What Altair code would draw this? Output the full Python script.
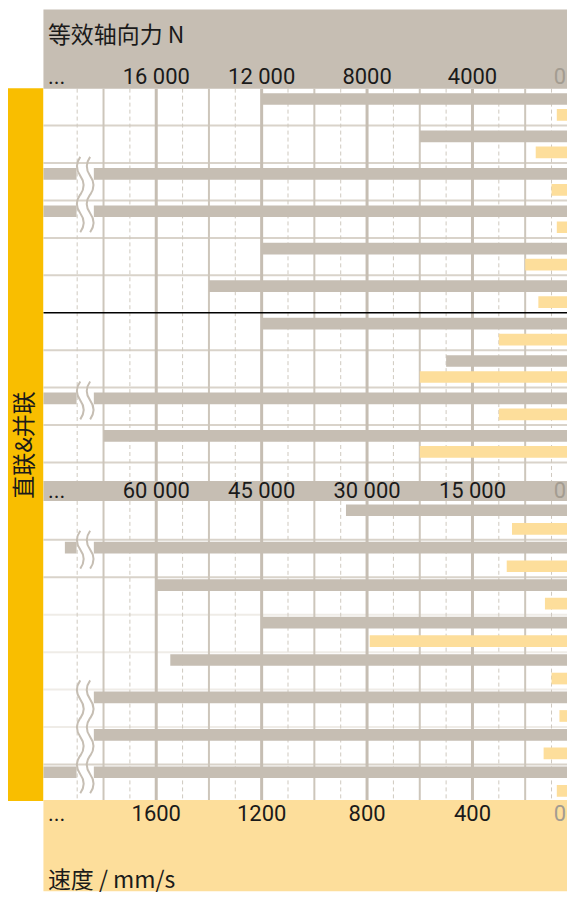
import altair as alt
import pandas as pd

# ---------------- data ----------------
# upper block: equivalent axial force (N, scale 0-20 000) and speed (mm/s), one pair per row
force_upper = [12000, 6000, 21000, 21000, 12000, 14000, 12000, 5000, 21000, 18000]
speed_upper = [80, 160, 100, 80, 200, 150, 300, 600, 300, 600]
# lower block: force on the 0-80 000 N scale
force_lower = [33000, 73000, 60000, 45000, 58000, 70000, 70000, 80000]
speed_lower = [250, 270, 125, 790, 100, 70, 130, 80]

upper_force_ticks = [16000, 12000, 8000, 4000]
upper_force_labels = ["16 000", "12 000", "8000", "4000"]
lower_force_ticks = [60000, 45000, 30000, 15000]
lower_force_labels = ["60 000", "45 000", "30 000", "15 000"]
speed_ticks = [1600, 1200, 800, 400]
speed_labels = ["1600", "1200", "800", "400"]
grid_steps = [100, 200, 300, 400, 500, 600, 700, 800, 900, 1000,
              1100, 1200, 1300, 1400, 1500, 1600, 1700, 1800, 1900]

force_title = "等效轴向力 N"
speed_title = "速度 / mm/s"
side_title = "直联&并联"

# force -> shared speed axis factors
FACTOR_UPPER = 10.0
FACTOR_LOWER = 37.5

# ---------------- layout / style ----------------
W, H = 560, 884
ORIGIN = 8
PX_PER_UNIT = 105.6 / 400
ZERO_PX = 578.9
ROW_PX = 37.5

GRAY = "#C6BEB3"
LIGHT = "#FDDE9B"
GOLD = "#F9BE00"
INK = "#1A1A1A"
ZERO_INK = "#A39C91"
NUM_FONT = "Roboto"
CJK_FONT = "Noto Sans CJK SC"


def sx(px):
    return (ZERO_PX - px) / PX_PER_UNIT


def sy(py):
    return (py - ORIGIN) / ROW_PX


S_LEFT = sx(ORIGIN)
S_RIGHT = sx(ORIGIN + W)
U_MAX = H / ROW_PX
EDGE = sx(43.5)
BREAK_START = sx(76.7)
BREAK_END = sx(94)
WAVE_X = (BREAK_START + BREAK_END) / 2

TOP_UPPER = sy(87.5)
TOP_LOWER = sy(502.5)
G_UP = (5 / ROW_PX, 16.7 / ROW_PX)
Y_UP = (21 / ROW_PX, 32.7 / ROW_PX)
G_LO = (2 / ROW_PX, 13.7 / ROW_PX)
Y_LO = (20.6 / ROW_PX, 32.3 / ROW_PX)

xs = alt.Scale(domain=[S_RIGHT, S_LEFT], reverse=True, nice=False, zero=False)
ys = alt.Scale(domain=[0, U_MAX], reverse=True, nice=False, zero=False)


def X(f="x"):
    return alt.X(f"{f}:Q", scale=xs, axis=None)


def Y(f="y"):
    return alt.Y(f"{f}:Q", scale=ys, axis=None)


# ---------------- bars ----------------
gray_segs, light_segs, waves = [], [], []


def add_block(forces, speeds, factor, top0, goff, yoff):
    for i, (f, v) in enumerate(zip(forces, speeds)):
        top = top0 + i
        g0, g1 = top + goff[0], top + goff[1]
        pos = f / factor
        if pos > BREAK_END:
            gray_segs.append(dict(x=BREAK_END, x2=0, y=g0, y2=g1))
            waves.append(dict(x=WAVE_X, y=(g0 + g1) / 2 + 2 / ROW_PX))
            if pos > BREAK_START:
                gray_segs.append(dict(x=min(pos, EDGE), x2=BREAK_START, y=g0, y2=g1))
        else:
            gray_segs.append(dict(x=pos, x2=0, y=g0, y2=g1))
        light_segs.append(dict(x=v, x2=0, y=top + yoff[0], y2=top + yoff[1]))


add_block(force_upper, speed_upper, FACTOR_UPPER, TOP_UPPER, G_UP, Y_UP)
add_block(force_lower, speed_lower, FACTOR_LOWER, TOP_LOWER, G_LO, Y_LO)

gray_df = pd.DataFrame(gray_segs)
light_df = pd.DataFrame(light_segs)
wave_df = pd.DataFrame(waves)

# ---------------- grid ----------------
v_top, v_bot = sy(88), sy(800.7)
vgrid = pd.DataFrame({"x": grid_steps})
vgrid["y"] = v_top
vgrid["y2"] = v_bot
major = vgrid[vgrid.x % 400 == 0]
minor = vgrid[(vgrid.x % 200 == 0) & (vgrid.x % 400 != 0)]
dashed = vgrid[vgrid.x % 200 != 0]

h_strong = [TOP_UPPER + k for k in range(1, 11) if k != 6] + [TOP_LOWER + k for k in (1, 2, 7)]
h_faint = [TOP_LOWER + k for k in (3, 4, 5, 6)]
hs = pd.DataFrame({"y": h_strong, "x": EDGE, "x2": S_RIGHT})
hf = pd.DataFrame({"y": h_faint, "x": EDGE, "x2": S_RIGHT})
divider = pd.DataFrame({"y": [TOP_UPPER + 6], "x": [EDGE], "x2": [S_RIGHT]})

bands = pd.DataFrame([
    dict(x=EDGE, x2=S_RIGHT, y=sy(8.8), y2=sy(88), c=GRAY),
    dict(x=EDGE, x2=S_RIGHT, y=sy(481), y2=sy(501), c=GRAY),
    dict(x=EDGE, x2=S_RIGHT, y=sy(800.7), y2=U_MAX, c=LIGHT),
    dict(x=S_LEFT, x2=sx(43.3), y=sy(87.5), y2=sy(801.5), c=GOLD),
])

layers = []
layers.append(alt.Chart(hf).mark_rule(color="#EFECE7", strokeWidth=2).encode(x=X(), x2="x2:Q", y=Y()))
layers.append(alt.Chart(hs).mark_rule(color="#D9D3CA", strokeWidth=2).encode(x=X(), x2="x2:Q", y=Y()))
layers.append(alt.Chart(dashed).mark_rule(color="#CFC9BF", strokeWidth=1, strokeDash=[4, 3]).encode(x=X(), y=Y(), y2="y2:Q"))
layers.append(alt.Chart(minor).mark_rule(color="#CDC6BB", strokeWidth=2).encode(x=X(), y=Y(), y2="y2:Q"))
layers.append(alt.Chart(major).mark_rule(color=GRAY, strokeWidth=3).encode(x=X(), y=Y(), y2="y2:Q"))
layers.append(alt.Chart(divider).mark_rule(color="#000000", strokeWidth=1.6).encode(x=X(), x2="x2:Q", y=Y()))
layers.append(alt.Chart(gray_df).mark_rect(color=GRAY, clip=True).encode(x=X(), x2="x2:Q", y=Y(), y2="y2:Q"))
layers.append(alt.Chart(light_df).mark_rect(color=LIGHT, clip=True).encode(x=X(), x2="x2:Q", y=Y(), y2="y2:Q"))

WAVE = ("M -0.26 -1 C -0.5 -0.66 -0.5 -0.33 -0.26 0 C -0.02 0.33 -0.02 0.66 -0.26 1 "
        "M 0.26 -1 C 0.02 -0.66 0.02 -0.33 0.26 0 C 0.5 0.33 0.5 0.66 0.26 1")
layers.append(alt.Chart(wave_df).mark_point(shape=WAVE, size=1444, filled=False, stroke=GRAY,
                                            strokeWidth=2, opacity=1).encode(x=X(), y=Y()))

layers.append(alt.Chart(bands).mark_rect().encode(
    x=X(), x2="x2:Q", y=Y(), y2="y2:Q", color=alt.Color("c:N", scale=None)))

# ---------------- texts ----------------
def tick_df(values, labels, factor, base_py):
    d = pd.DataFrame({"x": [v / factor for v in values], "label": labels})
    d["y"] = sy(base_py)
    return d


for vals, labs, fac, py in [
    (upper_force_ticks, upper_force_labels, FACTOR_UPPER, 83.3),
    (lower_force_ticks, lower_force_labels, FACTOR_LOWER, 498.3),
    (speed_ticks, speed_labels, 1.0, 821.7),
]:
    layers.append(alt.Chart(tick_df(vals, labs, fac, py)).mark_text(
        font=NUM_FONT, fontSize=22, color=INK, align="center", baseline="alphabetic").encode(
        x=X(), y=Y(), text="label:N"))
    layers.append(alt.Chart(pd.DataFrame({"x": [sx(48)], "y": [sy(py)], "label": ["..."]})).mark_text(
        font=NUM_FONT, fontSize=22, color=INK, align="left", baseline="alphabetic").encode(
        x=X(), y=Y(), text="label:N"))
    layers.append(alt.Chart(pd.DataFrame({"x": [S_RIGHT], "y": [sy(py)], "label": ["0"]})).mark_text(
        font=NUM_FONT, fontSize=22, color=ZERO_INK, align="right", baseline="alphabetic", dx=-1).encode(
        x=X(), y=Y(), text="label:N"))

titles = pd.DataFrame({"x": [sx(48), sx(48)], "y": [sy(42.5), sy(888.5)], "label": [force_title, speed_title]})
layers.append(alt.Chart(titles).mark_text(font=CJK_FONT, fontSize=23, color=INK, align="left",
                                          baseline="alphabetic").encode(x=X(), y=Y(), text="label:N"))
side = pd.DataFrame({"x": [sx(25.5)], "y": [sy(445)], "label": [side_title]})
layers.append(alt.Chart(side).mark_text(font=CJK_FONT, fontSize=23, color=INK, align="center",
                                        baseline="middle", angle=270).encode(x=X(), y=Y(), text="label:N"))

chart = alt.layer(*layers).properties(width=W, height=H, padding=0).configure_view(strokeWidth=0)
chart.save("out.html", embed_options={"renderer": "svg", "actions": False})
